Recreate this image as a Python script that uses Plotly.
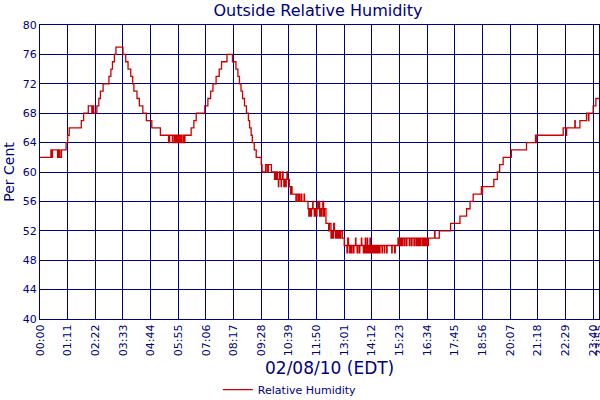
import plotly.graph_objects as go

# humidity readings as change points (minute of day, per cent); drawn as steps
minutes = [
    0, 28, 29, 30, 31, 32, 45, 47, 48, 50, 51, 55, 67, 71, 75, 106, 112, 124, 133, 136, 138, 139,
    146, 151, 155, 162, 177, 182, 186, 191, 195,
    213, 220, 226, 233, 238, 241, 249, 255, 264, 273, 287, 309,
    330, 333, 340, 341, 345, 347, 349, 352, 353, 355, 356, 358, 359, 362, 364, 368, 369, 372,
    388, 395, 401, 423, 431, 438, 444, 452, 460, 466, 480,
    494, 503, 508, 512, 516, 520, 525, 530, 535, 538, 542, 545, 550, 555, 568, 570,
    579, 583, 586, 594, 602, 604, 606, 608, 610, 612, 613, 615, 617, 619, 620, 622, 624, 626,
    628, 630, 632, 634, 635, 640, 643, 646, 647, 657, 658, 662, 663, 666, 670, 672, 678, 679,
    688, 690, 692, 695, 697, 700, 701, 704, 706, 709, 711, 713, 715, 716, 718, 720, 722, 724,
    726, 728, 730, 734, 741, 743, 747, 750, 752, 754, 756, 759, 761, 764, 766, 769, 772, 776,
    781, 788, 790, 792, 795, 797, 800, 801, 805, 806, 810, 811, 814, 816, 820, 821, 825, 826,
    830, 831, 834, 835, 836, 838, 839, 840, 841, 843, 844, 846, 847, 848, 850, 851, 853, 855,
    856, 858, 859, 861, 862, 864, 866, 868, 869, 872, 873, 878, 879, 884, 885, 890, 891, 903,
    904, 910, 912, 919, 921, 923, 925, 927, 930, 931, 935, 936, 940, 942, 948, 949, 953, 955,
    960, 961, 965, 966, 968, 970, 973, 974, 977, 978, 982, 983, 986, 988, 990, 992, 995, 997,
    1013, 1014, 1025, 1054, 1078, 1095, 1104, 1112, 1133, 1134, 1136, 1165, 1174, 1180, 1189,
    1210, 1249, 1272, 1273, 1274, 1343, 1351, 1352, 1373, 1374, 1386, 1403, 1408, 1409, 1420,
    1427, 1435,
]
humidity = [
    62, 63, 62, 63, 62, 63, 62, 63, 62, 63, 62, 63, 64, 65, 66, 67, 68, 69, 68, 69, 68, 68,
    69, 70, 71, 72, 73, 74, 75, 76, 77,
    76, 75, 74, 73, 72, 71, 70, 69, 68, 67, 66, 65,
    64, 65, 64, 65, 64, 65, 64, 65, 64, 65, 64, 65, 64, 65, 64, 65, 64, 65,
    66, 67, 68, 69, 70, 71, 72, 73, 74, 75, 76,
    75, 74, 73, 72, 71, 70, 69, 68, 67, 66, 65, 64, 63, 62, 61, 60,
    61, 60, 61, 60, 59, 60, 59, 60, 59, 58, 59, 60, 59, 58, 59, 60, 59, 58,
    59, 58, 59, 60, 59, 58, 57, 58, 57, 56, 57, 56, 57, 56, 57, 56, 57, 56,
    55, 54, 55, 54, 55, 56, 55, 54, 55, 54, 55, 56, 55, 56, 54, 55, 54, 55,
    56, 54, 55, 53, 52, 53, 51, 52, 51, 53, 52, 51, 52, 51, 52, 51, 52, 51,
    50, 49, 51, 50, 49, 50, 49, 50, 49, 50, 51, 50, 49, 50, 49, 50, 51, 50,
    49, 50, 49, 51, 49, 50, 49, 51, 49, 50, 49, 50, 51, 49, 50, 49, 50, 49,
    50, 49, 50, 49, 50, 49, 50, 49, 50, 49, 50, 49, 50, 49, 50, 49, 50, 49,
    50, 49, 50, 51, 50, 51, 50, 51, 50, 51, 50, 51, 50, 51, 50, 51, 50, 51,
    50, 51, 50, 51, 50, 51, 50, 51, 50, 51, 50, 51, 50, 51, 50, 51, 50, 51,
    52, 51, 52, 53, 54, 55, 56, 57, 58, 57, 58, 59, 60, 61, 62,
    63, 64, 65, 64, 65, 66, 65, 66, 67, 66, 67, 68, 67, 68, 69,
    70, 70,
]
assert len(minutes) == len(humidity)

tick_labels = [
    "00:00", "01:11", "02:22", "03:33", "04:44", "05:55", "07:06", "08:17", "09:28",
    "10:39", "11:50", "13:01", "14:12", "15:23", "16:34", "17:45", "18:56", "20:07",
    "21:18", "22:29", "23:40", "23:55",
]
tick_minutes = [int(t[:2]) * 60 + int(t[3:]) for t in tick_labels]

navy = "#000080"
font = "DejaVu Sans"

fig = go.Figure()
fig.add_trace(go.Scatter(
    x=minutes, y=humidity, mode="lines", line_shape="hv",
    line=dict(color="#CC0000", width=1.3), name="Relative Humidity",
))

fig.update_layout(
    width=600, height=400, autosize=False,
    margin=dict(l=40, r=1, t=25, b=81, autoexpand=False),
    paper_bgcolor="white", plot_bgcolor="white",
    font=dict(family=font, color=navy, size=11),
    title=dict(text="Outside Relative Humidity", x=0.53, xanchor="center",
               y=0.975, yanchor="middle", font=dict(size=16, color=navy)),
    showlegend=True,
    legend=dict(orientation="h", x=0.447, xanchor="center", y=-0.24, yanchor="middle",
                font=dict(size=11, color=navy), itemwidth=30),
    annotations=[
        dict(text="Per Cent", xref="paper", yref="paper", x=-0.056, y=0.5,
             textangle=-90, showarrow=False, font=dict(size=14, color=navy),
             xanchor="center", yanchor="middle"),
        dict(text="02/08/10 (EDT)", xref="paper", yref="paper", x=0.517, y=-0.168,
             showarrow=False, font=dict(size=17, color=navy),
             xanchor="center", yanchor="middle"),
    ],
)
fig.update_xaxes(
    range=[0, 1435], tickvals=tick_minutes, ticktext=tick_labels, tickangle=-90,
    tickfont=dict(size=11, color=navy), showgrid=True, gridcolor=navy, gridwidth=1.3,
    showline=True, linecolor=navy, linewidth=1.3, mirror=True, zeroline=False,
    ticks="", automargin=False, ticklabeloverflow="allow",
)
fig.update_yaxes(
    range=[40, 80], dtick=4, tick0=40, tickfont=dict(size=11, color=navy),
    showgrid=True, gridcolor=navy, gridwidth=1.3,
    showline=True, linecolor=navy, linewidth=1.3, mirror=True, zeroline=False,
    ticks="", automargin=False,
)

# page body has a default margin; drop it so the 600x400 figure fills the window
fig.write_html("out.html", config={"displayModeBar": False, "responsive": False},
               post_script="document.body.style.margin='0';")
